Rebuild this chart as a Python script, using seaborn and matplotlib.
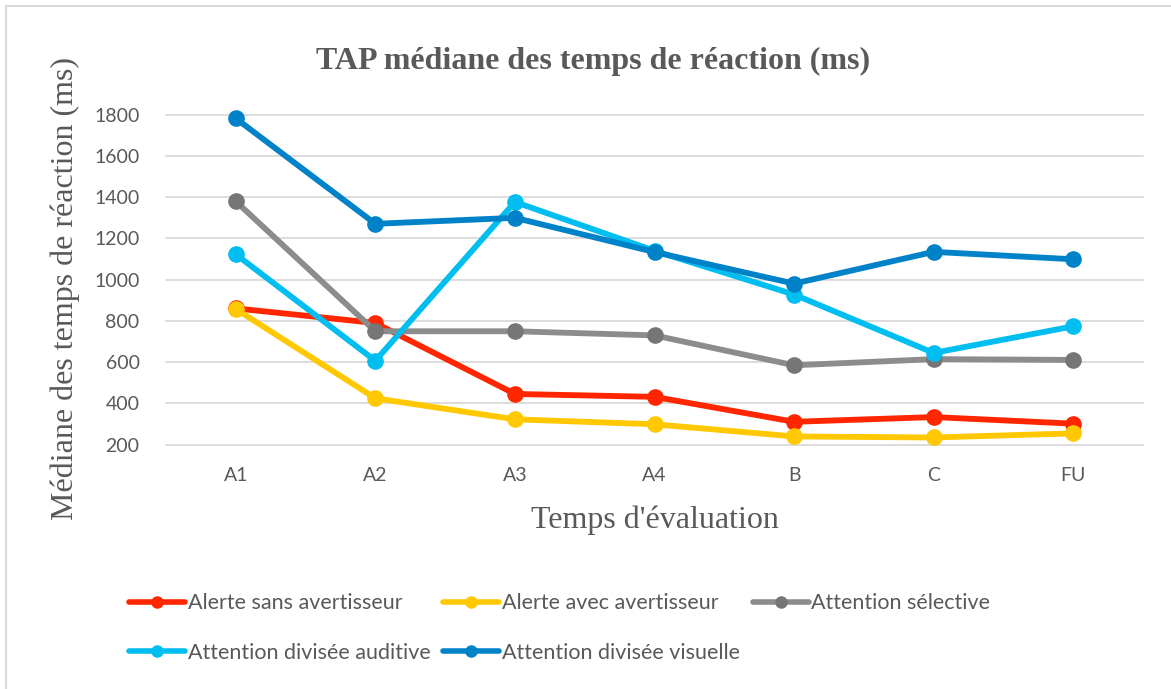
import matplotlib
matplotlib.use("Agg")
import matplotlib.pyplot as plt
from matplotlib.lines import Line2D
from matplotlib.patches import Rectangle
import seaborn as sns
import pandas as pd

# Assessment time points
temps = ["A1", "A2", "A3", "A4", "B", "C", "FU"]

# Median reaction times (ms) per TAP subtest
alerte_sans = [861, 790, 446, 432, 311, 334, 302]
alerte_avec = [858, 425, 323, 299, 240, 235, 255]
attention_selective = [1380, 750, 750, 730, 585, 615, 611]
divisee_auditive = [1123, 607, 1377, 1140, 928, 645, 774]
divisee_visuelle = [1782, 1271, 1300, 1134, 981, 1135, 1099]

series = [
    "Alerte sans avertisseur",
    "Alerte avec avertisseur",
    "Attention sélective",
    "Attention divisée auditive",
    "Attention divisée visuelle",
]
values = [alerte_sans, alerte_avec, attention_selective, divisee_auditive, divisee_visuelle]
line_colors = ["#FF2600", "#FFC800", "#8C8C8C", "#00BEF0", "#0082C8"]
marker_colors = ["#FF2600", "#FFC800", "#767676", "#00BEF0", "#0082C8"]

yticks = [200, 400, 600, 800, 1000, 1200, 1400, 1600, 1800]

rows = []
for name, vals in zip(series, values):
    for t, v in zip(temps, vals):
        rows.append({"Temps": t, "Valeur": v, "Série": name})
df = pd.DataFrame(rows)

sns.set_theme(style="white")
text_gray = "#595959"
grid_gray = "#D9D9D9"

fig = plt.figure(figsize=(11.71, 6.89), dpi=100)
ax = fig.add_axes([166 / 1171, 1 - 444.7 / 689, (1143 - 166) / 1171, 330 / 689])

sns.lineplot(
    data=df, x="Temps", y="Valeur", hue="Série", hue_order=series,
    palette=line_colors, marker="o", markersize=12, markeredgewidth=0,
    linewidth=4.2, sort=False, legend=False, ax=ax,
)
for ln, mc in zip(ax.lines, marker_colors):
    ln.set_markerfacecolor(mc)
    ln.set_markeredgecolor(mc)
    ln.set_clip_on(False)
    ln.set_solid_capstyle("round")
    ln.set_solid_joinstyle("round")

ax.set_xlim(-0.5, len(temps) - 0.5)
ax.set_ylim(200, 1800)
ax.set_yticks(yticks)
ax.set_yticklabels([str(v) for v in yticks])
ax.set_xticks(range(len(temps)))
ax.set_xticklabels(temps)

for y in yticks:
    ax.axhline(y, color=grid_gray, lw=1.3, zorder=0, clip_on=False)

for s in ax.spines.values():
    s.set_visible(False)
ax.grid(False)
ax.tick_params(axis="y", length=0, pad=19, labelsize=14, labelcolor=text_gray)
ax.tick_params(axis="x", length=0, pad=16, labelsize=14, labelcolor=text_gray)
for lab in ax.get_xticklabels() + ax.get_yticklabels():
    lab.set_family("Lato")
ax.set_xlabel("")
ax.set_ylabel("")

# Titles and axis labels
fig.text(593 / 1171, 1 - 61 / 689, "TAP médiane des temps de réaction (ms)",
         ha="center", va="center", fontsize=23, fontweight="bold",
         family="Liberation Serif", color=text_gray)
fig.text(655 / 1171, 1 - 520 / 689, "Temps d'évaluation",
         ha="center", va="center", fontsize=23,
         family="Liberation Serif", color=text_gray)
fig.text(65 / 1171, 1 - 289 / 689, "Médiane des temps de réaction (ms)",
         ha="center", va="center", rotation=90, fontsize=23,
         family="Liberation Serif", color=text_gray)

# Legend in row order: three entries on the first row, two on the second
handles = [
    Line2D([0], [0], color=lc, lw=4, marker="o", markersize=9,
           markerfacecolor=mc, markeredgewidth=0, solid_capstyle="round")
    for lc, mc in zip(line_colors, marker_colors)
]
order = [0, 3, 1, 4, 2]
leg = fig.legend(
    [handles[i] for i in order], [series[i] for i in order],
    ncol=3, loc="center left", bbox_to_anchor=(129 / 1171, 1 - 628 / 689),
    frameon=False, borderpad=0, borderaxespad=0, handlelength=2.6,
    handletextpad=0.12, columnspacing=0.6, labelspacing=1.35,
    prop={"family": "Lato", "size": 15.5},
)
for t in leg.get_texts():
    t.set_color(text_gray)

# Chart area outline
fig.patches.append(Rectangle((6 / 1171, -0.1), 1.2, 1 - 6 / 689 + 0.1,
                             transform=fig.transFigure, fill=False,
                             ec=grid_gray, lw=1.5))

fig.savefig("out.png", dpi=100)
